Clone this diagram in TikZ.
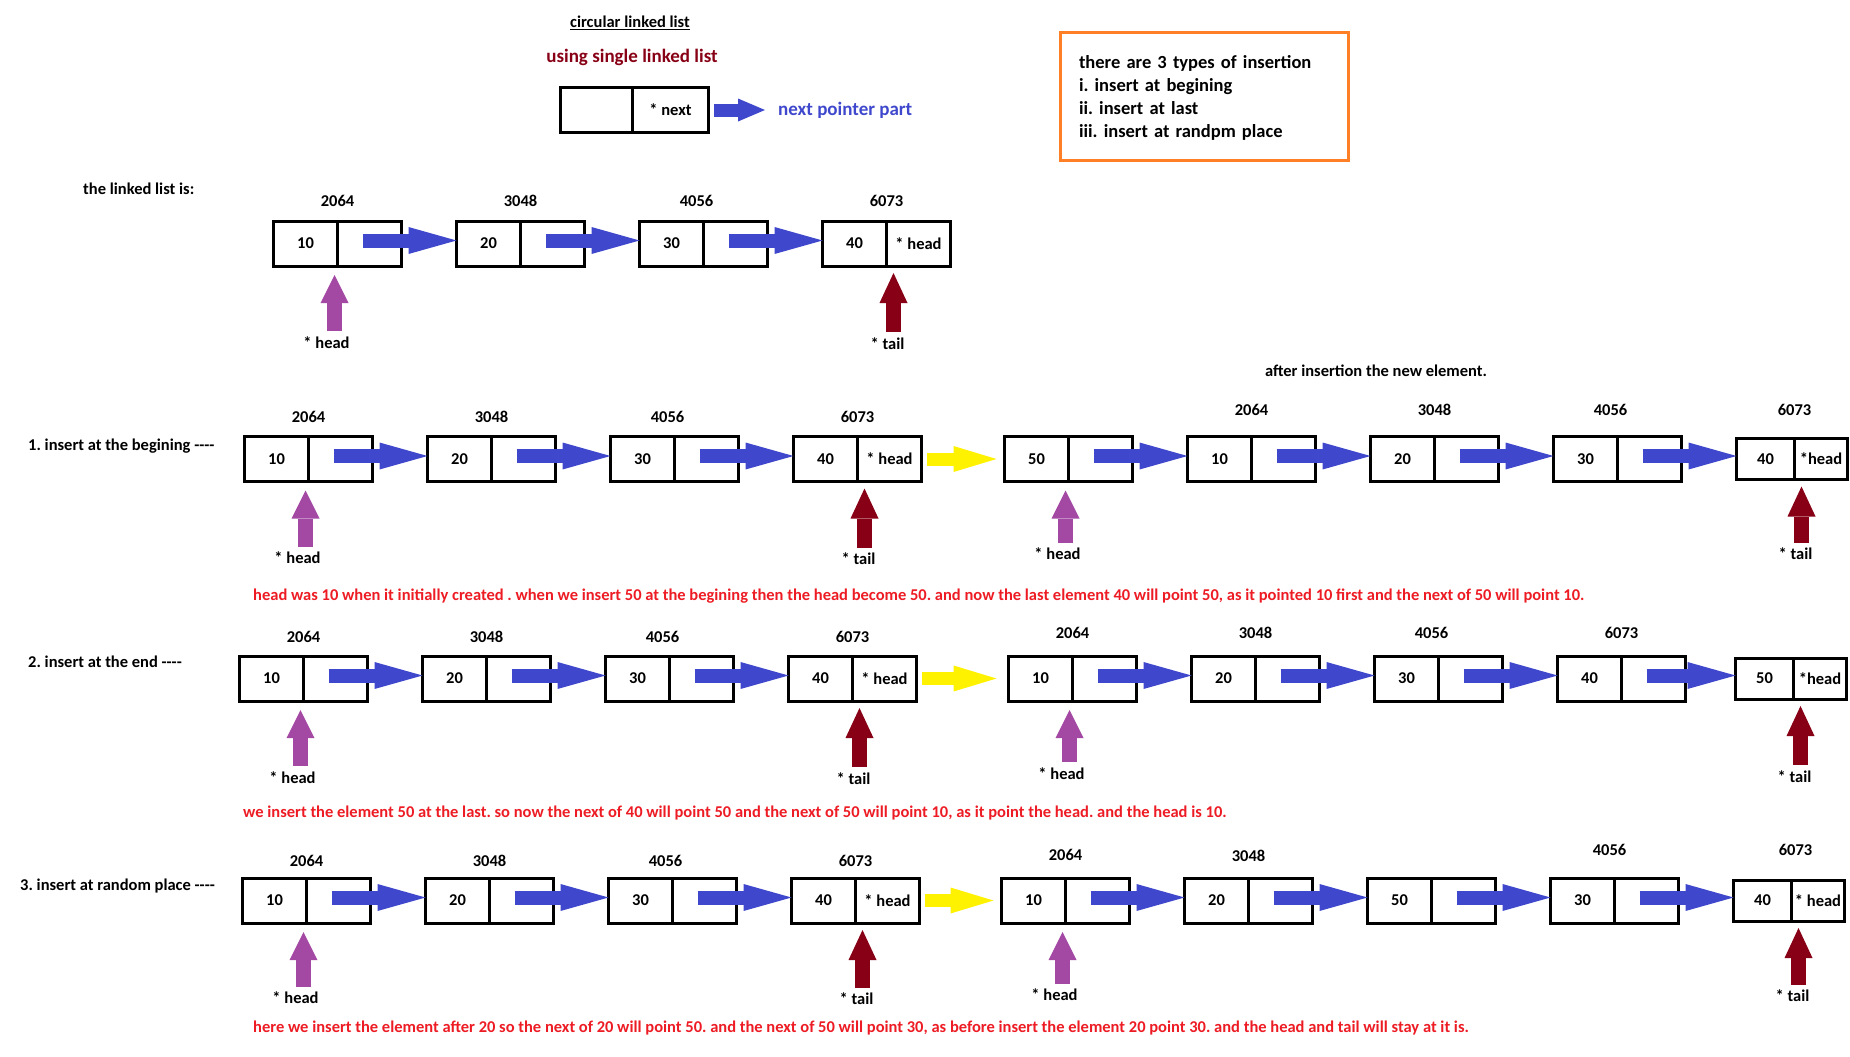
\documentclass[tikz,border=0pt]{standalone}
\usepackage{fontspec}
\setmainfont{Carlito}
\usepackage{tikz}
\usetikzlibrary{positioning,arrows.meta}
\definecolor{ptrblue}{RGB}{63,72,204}
\definecolor{headpurple}{RGB}{163,73,164}
\definecolor{taildark}{RGB}{136,0,21}
\definecolor{moveyellow}{RGB}{255,242,0}
\definecolor{boxorange}{RGB}{255,127,39}
\definecolor{notered}{RGB}{237,28,36}
\frenchspacing

\begin{document}
\begin{tikzpicture}[x=1pt, y=-1pt, node distance=55pt,
  cell/.style={draw, line width=3pt, minimum width=64pt, minimum height=45pt, inner sep=0pt, outer sep=0pt, font=\bfseries\fontsize{16.5}{19}\selectfont},
  lastval/.style={cell, minimum width=58pt, minimum height=41pt},
  lastnext/.style={lastval, minimum width=53pt},
  lbl/.style={inner sep=1pt, font=\bfseries\fontsize{16.5}{19}\selectfont},
  biglbl/.style={inner sep=1pt, font=\bfseries\fontsize{19}{23}\selectfont},
  note/.style={lbl, anchor=west, text=notered},
  nextarrow/.style={draw=ptrblue, line width=14pt, -{Triangle[length=48pt, width=27pt, line width=0pt]}},
  legendarrow/.style={draw=ptrblue, line width=13pt, -{Triangle[length=27pt, width=23pt, line width=0pt]}},
  movearrow/.style={draw=moveyellow, line width=13pt, -{Triangle[length=43pt, width=26pt, line width=0pt]}},
  headarrow/.style={draw=headpurple, line width=15pt, shorten <=4pt, shorten >=9pt, -{Triangle[length=28pt, width=28pt, line width=0pt]}},
  tailarrow/.style={draw=taildark, line width=15pt, shorten <=4pt, shorten >=7pt, -{Triangle[length=30pt, width=28pt, line width=0pt]}}]
\useasboundingbox (0,0) rectangle (1850,1057);

\node[lbl] (title) at (630,23) {\underline{circular linked list}};
\node[biglbl, text=taildark] (subtitle) at (632,57) {using single linked list};
\node[cell, minimum width=72pt] (legv) at (596.5,110) {};
\node[cell, minimum width=76pt, right=0pt of legv] (legn) {* next};
\node[biglbl, text=ptrblue, anchor=west] (legtext) at (777,110) {next pointer part};
\draw[legendarrow, shorten <=5pt, shorten >=12pt] (legn) -- (legtext);
\node[draw=boxorange, line width=3pt, text width=251pt, inner xsep=18.5pt, minimum height=128pt, align=left, font=\bfseries\fontsize{18.5}{22.8}\selectfont] (types) at (1204.5,96.5) {\rule{0pt}{16pt}there are 3 types of insertion\\i. insert at begining\\ii. insert at last\\iii. insert at randpm place};
\node[lbl] (after) at (1376,371) {after insertion the new element.};

\node[lbl, anchor=west] (listis) at (82,189) {the linked list is:};
\node[cell] (r0v1) at (305.5,243.5) {10};
\node[cell, right=0pt of r0v1] (r0n1) {};
\node[cell, right=of r0n1] (r0v2) {20};
\node[cell, right=0pt of r0v2] (r0n2) {};
\node[cell, right=of r0n2] (r0v3) {30};
\node[cell, right=0pt of r0v3] (r0n3) {};
\node[cell, right=of r0n3] (r0v4) {40};
\node[cell, right=0pt of r0v4] (r0n4) {* head};
\node[lbl, above=13pt of r0v1.north east] (r0a1) {2064};
\node[lbl, above=13pt of r0v2.north east] (r0a2) {3048};
\node[lbl, above=13pt of r0v3.north east, xshift=-7pt] (r0a3) {4056};
\node[lbl, above=13pt of r0v4.north east] (r0a4) {6073};
\draw[nextarrow] ([xshift=-39pt,yshift=3pt]r0n1.east) -- ([yshift=3pt]r0v2.west);
\draw[nextarrow] ([xshift=-39pt,yshift=3pt]r0n2.east) -- ([yshift=3pt]r0v3.west);
\draw[nextarrow] ([xshift=-39pt,yshift=3pt]r0n3.east) -- ([yshift=3pt]r0v4.west);
\node[lbl, below=69pt of r0v1.south east, xshift=-11pt] (r0head) {* head};
\node[lbl, below=70pt of r0v4.south east, xshift=1pt] (r0tail) {* tail};
\draw[headarrow] ([xshift=8pt]r0head.north) -- ([xshift=8pt]r0head.north |- r0v1.south);
\draw[tailarrow] ([xshift=6pt]r0tail.north) -- ([xshift=6pt]r0tail.north |- r0v4.south);

\node[lbl, anchor=west] (ins1) at (27,446) {1. insert at the begining -{}-{}-{}-};
\node[cell] (r1v1) at (276.5,459) {10};
\node[cell, right=0pt of r1v1] (r1n1) {};
\node[cell, right=of r1n1] (r1v2) {20};
\node[cell, right=0pt of r1v2] (r1n2) {};
\node[cell, right=of r1n2] (r1v3) {30};
\node[cell, right=0pt of r1v3] (r1n3) {};
\node[cell, right=of r1n3] (r1v4) {40};
\node[cell, right=0pt of r1v4] (r1n4) {* head};
\node[cell] (r1v5) at (1036.5,459) {50};
\node[cell, right=0pt of r1v5] (r1n5) {};
\node[cell, right=of r1n5] (r1v6) {10};
\node[cell, right=0pt of r1v6] (r1n6) {};
\node[cell, right=of r1n6] (r1v7) {20};
\node[cell, right=0pt of r1v7] (r1n7) {};
\node[cell, right=of r1n7] (r1v8) {30};
\node[cell, right=0pt of r1v8] (r1n8) {};
\node[lastval, right=of r1n8] (r1v9) {40};
\node[lastnext, right=0pt of r1v9] (r1n9) {*head};
\node[lbl, above=12.5pt of r1v1.north east] (r1a1) {2064};
\node[lbl, above=12.5pt of r1v2.north east] (r1a2) {3048};
\node[lbl, above=12.5pt of r1v3.north east, xshift=-7pt] (r1a3) {4056};
\node[lbl, above=12.5pt of r1v4.north east] (r1a4) {6073};
\node[lbl, above=19.5pt of r1v6.north east] (r1a6) {2064};
\node[lbl, above=19.5pt of r1v7.north east] (r1a7) {3048};
\node[lbl, above=19.5pt of r1v8.north east, xshift=-7pt] (r1a8) {4056};
\node[lbl, above=21.5pt of r1v9.north east] (r1a9) {6073};
\draw[nextarrow] ([xshift=-39pt,yshift=3pt]r1n1.east) -- ([yshift=3pt]r1v2.west);
\draw[nextarrow] ([xshift=-39pt,yshift=3pt]r1n2.east) -- ([yshift=3pt]r1v3.west);
\draw[nextarrow] ([xshift=-39pt,yshift=3pt]r1n3.east) -- ([yshift=3pt]r1v4.west);
\draw[movearrow] ([xshift=5pt]r1n4.east) -- ([xshift=-8pt]r1v5.west);
\draw[nextarrow] ([xshift=-39pt,yshift=3pt]r1n5.east) -- ([yshift=3pt]r1v6.west);
\draw[nextarrow] ([xshift=-39pt,yshift=3pt]r1n6.east) -- ([yshift=3pt]r1v7.west);
\draw[nextarrow] ([xshift=-39pt,yshift=3pt]r1n7.east) -- ([yshift=3pt]r1v8.west);
\draw[nextarrow] ([xshift=-39pt,yshift=3pt]r1n8.east) -- ([yshift=3pt]r1v9.west);
\node[lbl, below=69pt of r1v1.south east, xshift=-11pt] (r1head) {* head};
\node[lbl, below=70pt of r1v4.south east, xshift=1pt] (r1tail) {* tail};
\node[lbl, below=65pt of r1v5.south east, xshift=-11pt] (r1newhead) {* head};
\node[lbl, below=67pt of r1v9.south east, xshift=1pt] (r1newtail) {* tail};
\draw[headarrow] ([xshift=8pt]r1head.north) -- ([xshift=8pt]r1head.north |- r1v1.south);
\draw[tailarrow] ([xshift=6pt]r1tail.north) -- ([xshift=6pt]r1tail.north |- r1v4.south);
\draw[headarrow] ([xshift=8pt]r1newhead.north) -- ([xshift=8pt]r1newhead.north |- r1v5.south);
\draw[tailarrow] ([xshift=6pt]r1newtail.north) -- ([xshift=6pt]r1newtail.north |- r1v9.south);
\node[note] (note1) at (252,596) {head was 10 when it initially created . when we insert 50 at the begining then the head become 50. and now the last element 40 will point 50, as it pointed 10 first and the next of 50 will point 10.};

\node[lbl, anchor=west] (ins2) at (27,662) {2. insert at the end -{}-{}-{}-};
\node[cell] (r2v1) at (271.5,678.5) {10};
\node[cell, right=0pt of r2v1] (r2n1) {};
\node[cell, right=of r2n1] (r2v2) {20};
\node[cell, right=0pt of r2v2] (r2n2) {};
\node[cell, right=of r2n2] (r2v3) {30};
\node[cell, right=0pt of r2v3] (r2n3) {};
\node[cell, right=of r2n3] (r2v4) {40};
\node[cell, right=0pt of r2v4] (r2n4) {* head};
\node[cell] (r2v5) at (1040.5,678.5) {10};
\node[cell, right=0pt of r2v5] (r2n5) {};
\node[cell, right=of r2n5] (r2v6) {20};
\node[cell, right=0pt of r2v6] (r2n6) {};
\node[cell, right=of r2n6] (r2v7) {30};
\node[cell, right=0pt of r2v7] (r2n7) {};
\node[cell, right=of r2n7] (r2v8) {40};
\node[cell, right=0pt of r2v8] (r2n8) {};
\node[lastval, right=50pt of r2n8] (r2v9) {50};
\node[lastnext, right=0pt of r2v9] (r2n9) {*head};
\node[lbl, above=12pt of r2v1.north east] (r2a1) {2064};
\node[lbl, above=12pt of r2v2.north east] (r2a2) {3048};
\node[lbl, above=12pt of r2v3.north east, xshift=-7pt] (r2a3) {4056};
\node[lbl, above=12pt of r2v4.north east] (r2a4) {6073};
\node[lbl, above=16pt of r2v5.north east] (r2a5) {2064};
\node[lbl, above=16pt of r2v6.north east] (r2a6) {3048};
\node[lbl, above=16pt of r2v7.north east, xshift=-7pt] (r2a7) {4056};
\node[lbl, above=16pt of r2v8.north east] (r2a8) {6073};
\draw[nextarrow] ([xshift=-39pt,yshift=3pt]r2n1.east) -- ([yshift=3pt]r2v2.west);
\draw[nextarrow] ([xshift=-39pt,yshift=3pt]r2n2.east) -- ([yshift=3pt]r2v3.west);
\draw[nextarrow] ([xshift=-39pt,yshift=3pt]r2n3.east) -- ([yshift=3pt]r2v4.west);
\draw[movearrow] ([xshift=5pt]r2n4.east) -- ([xshift=-12pt]r2v5.west);
\draw[nextarrow] ([xshift=-39pt,yshift=3pt]r2n5.east) -- ([yshift=3pt]r2v6.west);
\draw[nextarrow] ([xshift=-39pt,yshift=3pt]r2n6.east) -- ([yshift=3pt]r2v7.west);
\draw[nextarrow] ([xshift=-39pt,yshift=3pt]r2n7.east) -- ([yshift=3pt]r2v8.west);
\draw[nextarrow] ([xshift=-39pt,yshift=3pt]r2n8.east) -- ([yshift=3pt]r2v9.west);
\node[lbl, below=69pt of r2v1.south east, xshift=-11pt] (r2head) {* head};
\node[lbl, below=70pt of r2v4.south east, xshift=1pt] (r2tail) {* tail};
\node[lbl, below=65pt of r2v5.south east, xshift=-11pt] (r2newhead) {* head};
\node[lbl, below=70pt of r2v9.south east, xshift=1pt] (r2newtail) {* tail};
\draw[headarrow] ([xshift=8pt]r2head.north) -- ([xshift=8pt]r2head.north |- r2v1.south);
\draw[tailarrow] ([xshift=6pt]r2tail.north) -- ([xshift=6pt]r2tail.north |- r2v4.south);
\draw[headarrow] ([xshift=8pt]r2newhead.north) -- ([xshift=8pt]r2newhead.north |- r2v5.south);
\draw[tailarrow] ([xshift=6pt]r2newtail.north) -- ([xshift=6pt]r2newtail.north |- r2v9.south);
\node[note] (note2) at (242,813) {we insert the element 50 at the last. so now the next of 40 will point 50 and the next of 50 will point 10, as it point the head. and the head is 10.};

\node[lbl, anchor=west] (ins3) at (19,886) {3. insert at random place -{}-{}-{}-};
\node[cell] (r3v1) at (274.5,900.5) {10};
\node[cell, right=0pt of r3v1] (r3n1) {};
\node[cell, right=of r3n1] (r3v2) {20};
\node[cell, right=0pt of r3v2] (r3n2) {};
\node[cell, right=of r3n2] (r3v3) {30};
\node[cell, right=0pt of r3v3] (r3n3) {};
\node[cell, right=of r3n3] (r3v4) {40};
\node[cell, right=0pt of r3v4] (r3n4) {* head};
\node[cell] (r3v5) at (1033.5,900.5) {10};
\node[cell, right=0pt of r3v5] (r3n5) {};
\node[cell, right=of r3n5] (r3v6) {20};
\node[cell, right=0pt of r3v6] (r3n6) {};
\node[cell, right=of r3n6] (r3v7) {50};
\node[cell, right=0pt of r3v7] (r3n7) {};
\node[cell, right=of r3n7] (r3v8) {30};
\node[cell, right=0pt of r3v8] (r3n8) {};
\node[lastval, right=of r3n8] (r3v9) {40};
\node[lastnext, right=0pt of r3v9] (r3n9) {* head};
\node[lbl, above=10pt of r3v1.north east] (r3a1) {2064};
\node[lbl, above=10pt of r3v2.north east] (r3a2) {3048};
\node[lbl, above=10pt of r3v3.north east, xshift=-7pt] (r3a3) {4056};
\node[lbl, above=10pt of r3v4.north east] (r3a4) {6073};
\node[lbl, above=16pt of r3v5.north east] (r3a5) {2064};
\node[lbl, above=15pt of r3v6.north east] (r3a6) {3048};
\node[lbl, above=21pt of r3v8.north east, xshift=-5pt] (r3a8) {4056};
\node[lbl, above=23pt of r3v9.north east, xshift=4pt] (r3a9) {6073};
\draw[nextarrow] ([xshift=-39pt,yshift=3pt]r3n1.east) -- ([yshift=3pt]r3v2.west);
\draw[nextarrow] ([xshift=-39pt,yshift=3pt]r3n2.east) -- ([yshift=3pt]r3v3.west);
\draw[nextarrow] ([xshift=-39pt,yshift=3pt]r3n3.east) -- ([yshift=3pt]r3v4.west);
\draw[movearrow] ([xshift=5pt]r3n4.east) -- ([xshift=-8pt]r3v5.west);
\draw[nextarrow] ([xshift=-39pt,yshift=3pt]r3n5.east) -- ([yshift=3pt]r3v6.west);
\draw[nextarrow] ([xshift=-39pt,yshift=3pt]r3n6.east) -- ([yshift=3pt]r3v7.west);
\draw[nextarrow] ([xshift=-39pt,yshift=3pt]r3n7.east) -- ([yshift=3pt]r3v8.west);
\draw[nextarrow] ([xshift=-39pt,yshift=3pt]r3n8.east) -- ([yshift=3pt]r3v9.west);
\node[lbl, below=67.5pt of r3v1.south east, xshift=-11pt] (r3head) {* head};
\node[lbl, below=68.5pt of r3v4.south east, xshift=1pt] (r3tail) {* tail};
\node[lbl, below=64.5pt of r3v5.south east, xshift=-11pt] (r3newhead) {* head};
\node[lbl, below=67.5pt of r3v9.south east, xshift=1pt] (r3newtail) {* tail};
\draw[headarrow] ([xshift=8pt]r3head.north) -- ([xshift=8pt]r3head.north |- r3v1.south);
\draw[tailarrow] ([xshift=6pt]r3tail.north) -- ([xshift=6pt]r3tail.north |- r3v4.south);
\draw[headarrow] ([xshift=8pt]r3newhead.north) -- ([xshift=8pt]r3newhead.north |- r3v5.south);
\draw[tailarrow] ([xshift=6pt]r3newtail.north) -- ([xshift=6pt]r3newtail.north |- r3v9.south);
\node[note] (note3) at (252,1028) {here we insert the element after 20 so the next of 20 will point 50. and the next of 50 will point 30, as before insert the element 20 point 30. and the head and tail will stay at it is.};
\end{tikzpicture}
\end{document}
